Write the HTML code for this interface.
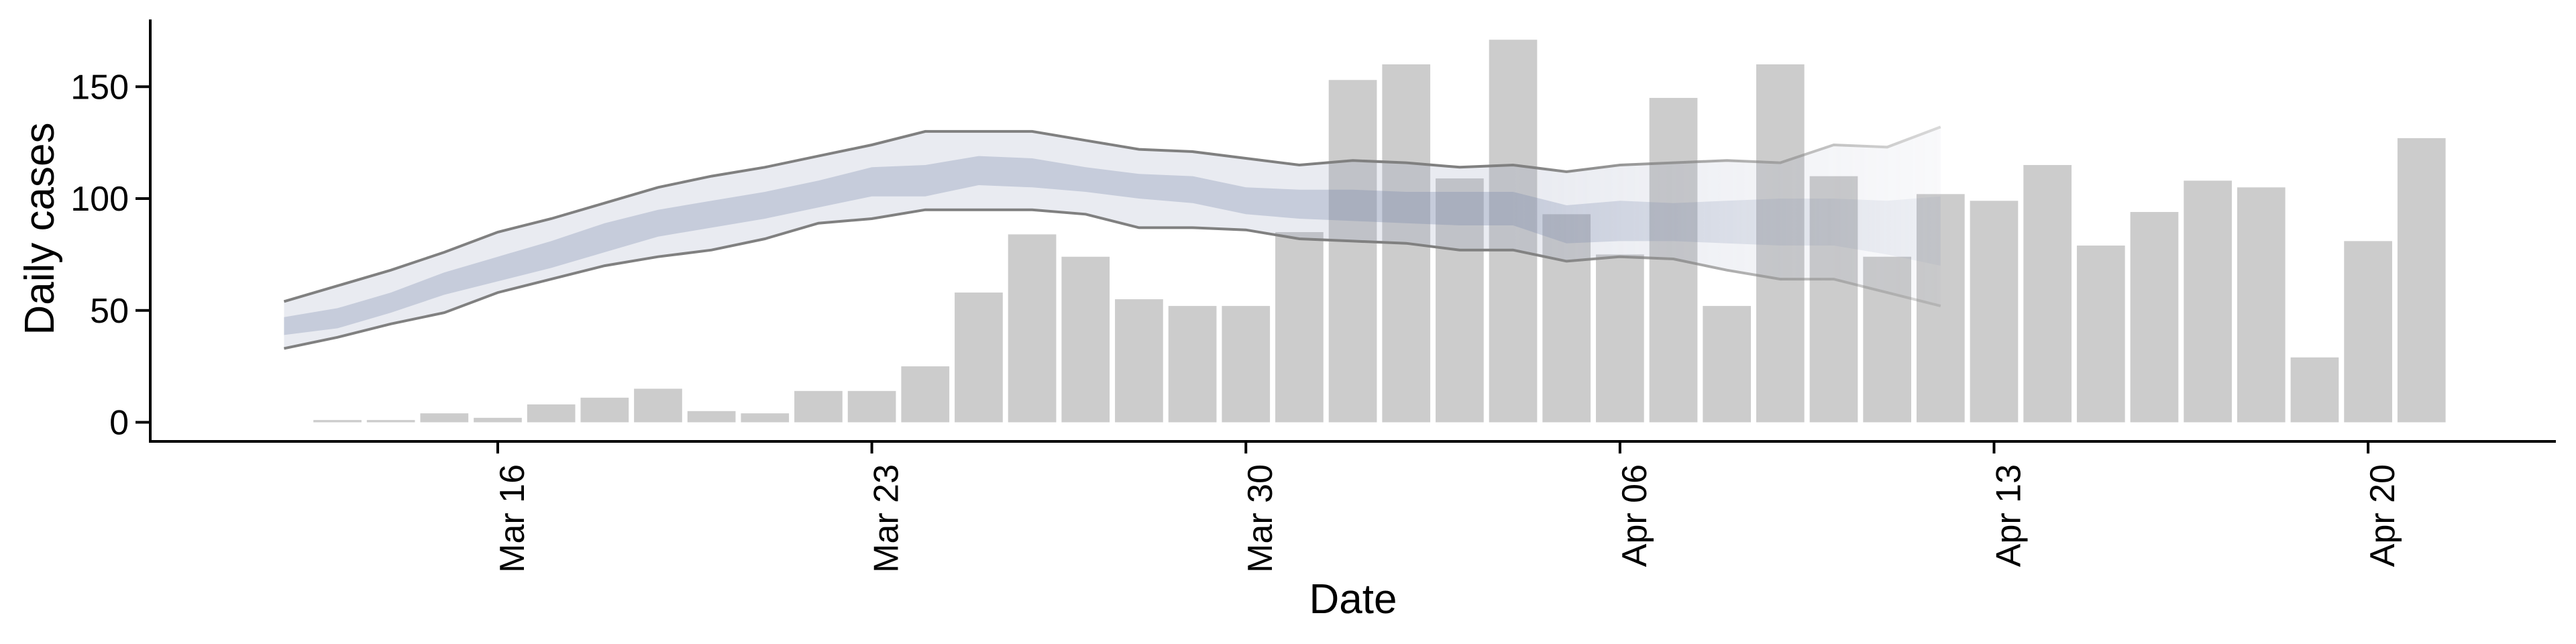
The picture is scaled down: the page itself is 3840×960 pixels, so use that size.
<!DOCTYPE html>
<html><head><meta charset="utf-8"><style>
html,body{margin:0;padding:0;background:#fff;}
svg{display:block;font-family:"Liberation Sans",sans-serif;}
</style></head><body>
<svg id="chart" width="3840" height="960" viewBox="0 0 3840 960" xmlns="http://www.w3.org/2000/svg">
<defs>
<linearGradient id="fadeGrad" gradientUnits="userSpaceOnUse" x1="2250" y1="0" x2="2900" y2="0">
<stop offset="0" stop-color="#fff"/><stop offset="1" stop-color="#4a4a4a"/>
</linearGradient>
<mask id="fadeMask" maskUnits="userSpaceOnUse" x="0" y="0" width="3840" height="960">
<rect x="0" y="0" width="3840" height="960" fill="url(#fadeGrad)"/>
</mask>
</defs>
<g id="bars"></g>
<g id="band" mask="url(#fadeMask)"></g>
<g id="axes"></g>
</svg>
<script>
const barStartDay = -3; // Mar 13 relative to Mar 16
const barValues = [1,1,4,2,8,11,15,5,4,14,14,25,58,84,74,55,52,52,85,153,160,109,171,93,75,145,52,160,110,74,102,99,115,79,94,108,105,29,81,127];
const bandStartDay = -4; // Mar 12
const outerUpper = [54,61,68,76,85,91,98,105,110,114,119,124,130,130,130,126,122,121,118,115,117,116,114,115,112,115,116,117,116,124,123,132];
const outerLower = [33,38,44,49,58,64,70,74,77,82,89,91,95,95,95,93,87,87,86,82,81,80,77,77,72,74,73,68,64,64,58,52];
const innerUpper = [47,51,58,67,74,81,89,95,99,103,108,114,115,119,118,114,111,110,105,104,104,103,103,103,97,99,98,99,100,100,99,101];
const innerLower = [39,42,49,57,63,69,76,83,87,91,96,101,101,106,105,103,100,98,93,91,90,89,88,88,80,81,81,80,79,79,75,70];
const yTicks = [0,50,100,150];
const xTickDays = [0,7,14,21,28,35];
const xTickLabels = ["Mar 16","Mar 23","Mar 30","Apr 06","Apr 13","Apr 20"];

const NS = "http://www.w3.org/2000/svg";
const X0 = 742, DAY = 79.66, Y0 = 629.5, PX = 3.335;
function xs(d){ return X0 + d*DAY; }
function ys(v){ return Y0 - v*PX; }
function mk(tag, attrs, parent){ const e=document.createElementNS(NS,tag); for(const k in attrs) e.setAttribute(k,attrs[k]); parent.appendChild(e); return e; }

const barsG = document.getElementById('bars');
barValues.forEach((v,i)=>{
  const cx = xs(barStartDay+i), w = DAY*0.9;
  const r = mk('rect',{x:cx-w/2,y:ys(v),width:w,height:Math.max(0,ys(0)-ys(v)),fill:'#cccccc'},barsG);
  
  
});

const bandG = document.getElementById('band');
function areaPath(up, lo){
  let d = '';
  up.forEach((v,i)=>{ d += (i?'L':'M') + xs(bandStartDay+i).toFixed(1) + ',' + ys(v).toFixed(1); });
  for(let i=lo.length-1;i>=0;i--) d += 'L' + xs(bandStartDay+i).toFixed(1) + ',' + ys(lo[i]).toFixed(1);
  return d + 'Z';
}
function linePath(arr){
  return arr.map((v,i)=>(i?'L':'M') + xs(bandStartDay+i).toFixed(1) + ',' + ys(v).toFixed(1)).join('');
}
const outer = mk('path',{d:areaPath(outerUpper,outerLower),fill:'rgba(145,155,185,0.2)'},bandG);


const inner = mk('path',{d:areaPath(innerUpper,innerLower),fill:'rgba(116,132,168,0.3)'},bandG);


const lu = mk('path',{d:linePath(outerUpper),fill:'none',stroke:'#808080','stroke-width':4},bandG);


const ll = mk('path',{d:linePath(outerLower),fill:'none',stroke:'#808080','stroke-width':4},bandG);



const ax = document.getElementById('axes');
const yAxis = mk('line',{x1:224,y1:29,x2:224,y2:660,stroke:'#000','stroke-width':4},ax);


const xAxis = mk('line',{x1:222,y1:658,x2:3810,y2:658,stroke:'#000','stroke-width':4},ax);


yTicks.forEach(v=>{
  const t = mk('line',{x1:202,y1:ys(v),x2:224,y2:ys(v),stroke:'#000','stroke-width':4},ax);
  
  
  const l = mk('text',{x:192,y:ys(v)+18,'text-anchor':'end','font-size':52,fill:'#000'},ax);
  l.textContent = v;
  
  
});
xTickDays.forEach((d,i)=>{
  const x = xs(d);
  const t = mk('line',{x1:x,y1:658,x2:x,y2:676,stroke:'#000','stroke-width':4},ax);
  
  
  const l = mk('text',{x:0,y:0,'text-anchor':'end','font-size':52,fill:'#000',transform:'translate('+(x+39)+',692) rotate(-90)'},ax);
  l.textContent = xTickLabels[i];
  
  
});
const yt = mk('text',{x:0,y:0,'text-anchor':'middle','font-size':62,fill:'#000',transform:'translate(80,341) rotate(-90)'},ax);
yt.textContent = 'Daily cases';


const xt = mk('text',{x:2017,y:914,'text-anchor':'middle','font-size':62,fill:'#000'},ax);
xt.textContent = 'Date';


</script>
</body></html>
